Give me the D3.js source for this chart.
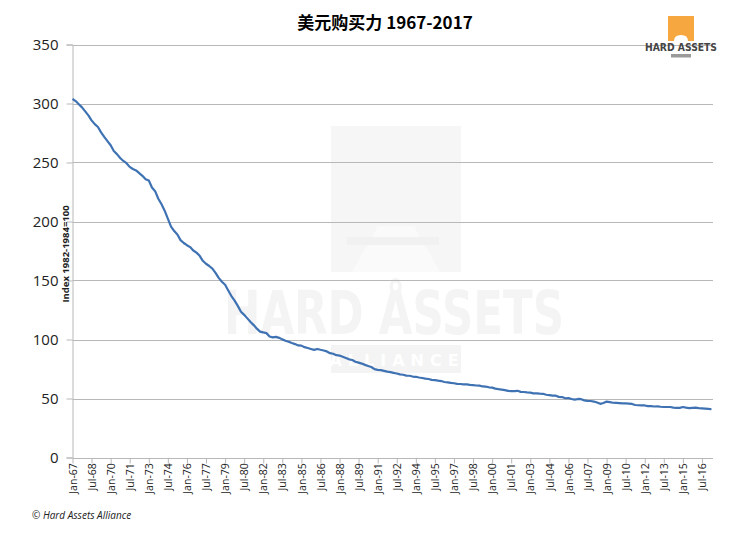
<!DOCTYPE html>
<html><head><meta charset="utf-8">
<script src="https://cdn.jsdelivr.net/npm/d3@7"></script>
<style>
html,body{margin:0;padding:0;background:#fff;}
svg{display:block;}
</style></head>
<body>
<script>
// ---- data ----
const title = "美元购买力 1967-2017";
const yAxisTitle = "Index 1982-1984=100";
const source = "© Hard Assets Alliance";
const startDate = "1967-01-01";
const stepMonths = 3; // quarterly readings
const values = [
 304.0,302.1,299.4,296.7, 293.3,289.9,285.7,282.5, 280.1,275.5,271.7,268.1,
 264.6,259.7,257.1,253.8, 251.3,249.4,246.3,244.5, 243.3,241.0,238.7,235.8,
 234.7,228.8,225.7,219.3, 214.6,209.2,202.4,195.7, 191.9,189.0,184.2,181.8,
 179.9,178.3,175.4,173.6, 170.9,166.7,164.2,162.3, 160.0,156.5,152.2,149.0,
 146.4,141.6,136.8,133.0, 128.5,123.5,120.9,117.9, 114.9,112.2,109.2,106.7,
 106.0,105.4,102.6,101.8, 102.2,101.4,100.1,99.0, 98.1,97.0,96.1,95.0,
 94.8,93.5,92.8,92.0, 91.2,92.0,91.3,90.7, 89.9,88.4,87.9,86.7,
 86.4,85.4,84.4,83.2, 82.6,81.2,80.4,79.6, 78.5,77.6,76.7,74.9,
 74.3,74.0,73.4,72.8, 72.4,71.7,71.2,70.5, 70.1,69.4,69.3,68.6,
 68.4,67.8,67.4,66.9, 66.5,65.8,65.6,65.1, 64.8,64.0,63.7,63.2,
 62.9,62.4,62.3,61.9, 61.9,61.5,61.3,61.0, 60.9,60.2,60.0,59.5,
 59.2,58.4,57.9,57.5, 57.1,56.5,56.3,56.3, 56.5,55.6,55.5,55.2,
 55.0,54.4,54.4,54.1, 54.0,53.2,52.8,52.4, 52.4,51.4,51.2,50.2,
 50.4,49.6,49.1,49.6, 49.4,48.4,48.0,47.9, 47.4,46.6,45.5,46.2,
 47.4,46.9,46.4,46.3, 46.1,45.9,45.9,45.7, 45.4,44.5,44.3,44.2,
 44.1,43.5,43.6,43.2, 43.4,43.0,42.8,42.8, 42.8,42.3,42.0,42.1,
 42.8,42.3,41.9,42.1, 42.2,41.8,41.6,41.4, 41.2,40.9
];
const yTicks = [0,50,100,150,200,250,300,350];
const xTickLabels = ["Jan-67","Jul-68","Jan-70","Jul-71","Jan-73","Jul-74","Jan-76","Jul-77","Jan-79","Jul-80",
 "Jan-82","Jul-83","Jan-85","Jul-86","Jan-88","Jul-89","Jan-91","Jul-92","Jan-94","Jul-95","Jan-97","Jul-98",
 "Jan-00","Jul-01","Jan-03","Jul-04","Jan-06","Jul-07","Jan-09","Jul-10","Jan-12","Jul-13","Jan-15","Jul-16"];

// ---- build ----
const W = 734, H = 541;
const parseLabel = d3.timeParse("%b-%y");
const fixYear = d => { const t = parseLabel(d); if (t.getFullYear() > 2030) t.setFullYear(t.getFullYear()-100); return t; };
const t0 = d3.timeParse("%Y-%m-%d")(startDate);
const series = values.map((v,i) => ({date: d3.timeMonth.offset(t0, i*stepMonths), value: v}));
const tickDates = xTickLabels.map(fixYear);

const svg = d3.select("body").append("svg").attr("width", W).attr("height", H);

const x = d3.scaleTime().domain([t0, series[series.length-1].date]).range([72.5, 711.5]);
const y = d3.scaleLinear().domain([0, 350]).range([457.5, 44.5]);
const plotRight = 713;

// watermark
const wm = svg.append("g");
wm.append("rect").attr("x",331).attr("y",126).attr("width",130).attr("height",146).attr("fill","#f6f6f6");
wm.append("path").attr("d","M352,272 L378,226 L414,226 L440,272 Z").attr("fill","#fafafa");
wm.append("rect").attr("x",347).attr("y",237).attr("width",92).attr("height",8).attr("fill","#f1f1f1");
wm.append("text").attr("x",394).attr("y",334).attr("text-anchor","middle")
  .attr("font-family","DejaVu Sans, sans-serif").attr("font-weight","bold").attr("font-size",60)
  .attr("textLength",340).attr("lengthAdjust","spacingAndGlyphs")
  .attr("fill","#f4f4f4").text("HARD ÅSSETS");
wm.append("rect").attr("x",331).attr("y",345).attr("width",130).attr("height",28).attr("fill","#f4f4f4");
wm.append("text").attr("x",397).attr("y",366).attr("text-anchor","middle")
  .attr("font-family","DejaVu Sans, sans-serif").attr("font-weight","bold").attr("font-size",16)
  .attr("letter-spacing",6).attr("fill","#ffffff").text("ALLIANCE");

// gridlines
svg.append("g").selectAll("line").data(yTicks.filter(d=>d>0)).join("line")
  .attr("x1",72.5).attr("x2",plotRight).attr("y1",d=>Math.round(y(d))+0.5).attr("y2",d=>Math.round(y(d))+0.5)
  .attr("stroke","#b8b8b8").attr("stroke-width",1.2);

// y axis
const yAxis = d3.axisLeft(y).tickValues(yTicks).tickSize(6).tickPadding(8).tickFormat(d3.format("d"));
const gy = svg.append("g").attr("transform","translate(72.5,0)").call(yAxis);
gy.select(".domain").attr("stroke","#b8b8b8");
gy.selectAll(".tick line").attr("stroke","#b8b8b8");
gy.selectAll("text").attr("font-family","Open Sans, sans-serif").attr("font-size",15).attr("fill","#222");

// x axis
const xAxis = d3.axisBottom(x).tickValues(tickDates).tickSize(5).tickPadding(3)
  .tickFormat((d,i)=>xTickLabels[i]).tickSizeOuter(0);
const gx = svg.append("g").attr("transform",`translate(0,${Math.round(y(0))+0.5})`).call(xAxis);
gx.select(".domain").attr("stroke","#b8b8b8").attr("d",`M72.5,0H${plotRight}`);
gx.selectAll(".tick line").attr("stroke","#b8b8b8");
gx.selectAll("text").attr("font-family","Open Sans, sans-serif").attr("font-size",10.5).attr("fill","#222")
  .attr("transform","rotate(-90)").attr("text-anchor","end").attr("dx","-0.45em")
  .attr("x",0).attr("y",0).attr("dy","0.35em");

// line
svg.append("path").datum(series)
  .attr("fill","none").attr("stroke","#3f72b3").attr("stroke-width",2.2).attr("stroke-linejoin","round")
  .attr("d", d3.line().x(d=>x(d.date)).y(d=>y(d.value)));

// y axis title
svg.append("text").attr("transform","translate(69,254) rotate(-90)").attr("text-anchor","middle")
  .attr("font-family","Open Sans, sans-serif").attr("font-weight","bold").attr("font-size",9.5).attr("fill","#222")
  .text(yAxisTitle);

// title
svg.append("text").attr("x",385).attr("y",29).attr("text-anchor","middle")
  .attr("font-family","Noto Sans CJK SC, sans-serif").attr("font-weight","bold").attr("font-size",17).attr("fill","#000")
  .text(title);

// footer
svg.append("text").attr("x",32).attr("y",519)
  .attr("font-family","Open Sans, sans-serif").attr("font-style","italic").attr("font-size",10).attr("fill","#222")
  .text(source);

// logo
const lg = svg.append("g");
lg.append("path").attr("d","M668,16 H694 V41 H688 Q688,35 681,35 Q674,35 674,41 H668 Z").attr("fill","#f7a740");
lg.append("text").attr("x",681).attr("y",51).attr("text-anchor","middle")
  .attr("font-family","DejaVu Sans, sans-serif").attr("font-weight","bold").attr("font-size",10)
  .attr("textLength",72).attr("lengthAdjust","spacingAndGlyphs").attr("fill","#444").text("HARD ASSETS");
lg.append("rect").attr("x",671).attr("y",54).attr("width",20).attr("height",3.5).attr("fill","#9a9a9a");
</script>
</body></html>
